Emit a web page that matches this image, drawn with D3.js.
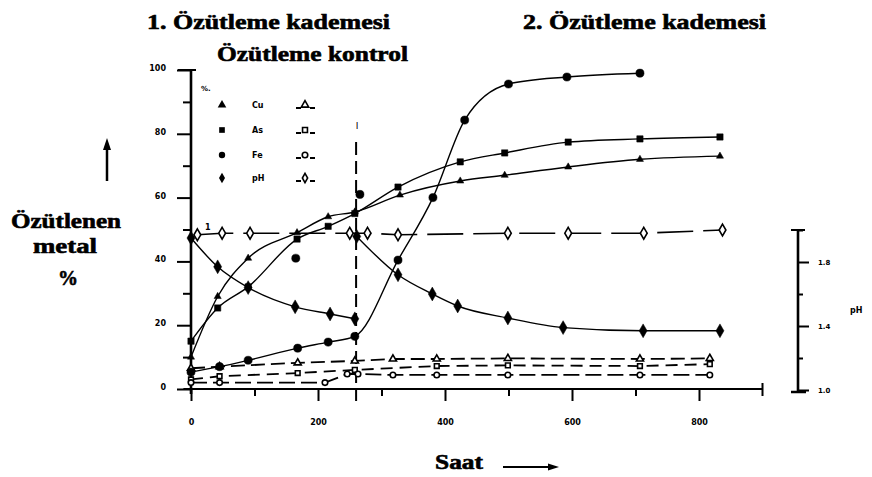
<!DOCTYPE html>
<html><head><meta charset="utf-8">
<script src="https://cdn.jsdelivr.net/npm/d3@7/dist/d3.min.js"></script>
<style>body{margin:0;background:#fff}</style>
</head><body>
<svg id="c" width="872" height="477"></svg>
<script>
// ---------- data ----------
const xTickValues = [0,100,200,300,400,500,600,700,800];
const xTickLabels = ["0","200","400","600","800"];
const yTickValues = [0,10,20,30,40,50,60,70,80,90,100];
const yTickLabels = ["0","20","40","60","80","100"];
const phTickValues = [1.0,1.2,1.4,1.6,1.8,2.0];
const phTickLabels = ["1.0","1.4","1.8"];
const stageBoundary = 260;   // saat
const xAxisEnd = 900;

// test series (filled markers, solid lines): [saat, %]
const cuTest = [[0,10],[42,29],[90,41],[167,49],[216,54],[258,55.5],[329,60.8],[424,65.2],[494,67],[594,69.6],[707,72],[833,73]];
const asTest = [[0,15],[42,25.4],[90,32],[167,47],[216,51],[258,55],[326,63.3],[424,71.2],[494,74],[594,77.4],[707,78.4],[833,79]];
const feTest = [[0,5.3],[45,7],[90,9],[168,12.8],[216,14.7],[258,16.5],[326,40.4],[381,60],[431,84.3],[500,95.6],[592,97.8],[707,99]];
const feExtra = [[165,41],[266,61]];
// pH test (right axis), two extraction stages
const phStage1 = [[0,1.95],[42,1.77],[90,1.64],[164,1.52],[219,1.475],[258,1.445]];
const phStage2 = [[261,1.96],[326,1.72],[380,1.60],[420,1.525],[499,1.45],[586,1.39],[712,1.37],[833,1.37]];
// control series (open markers, dashed lines)
const phControl = [[10,1.97],[49,1.98],[93,1.98],[250,1.98],[278,1.98],[326,1.97],[499,1.98],[594,1.98],[713,1.98],[837,2.0]];
const cuControl = [[0,6.5],[45,7],[168,8.2],[258,8.8],[318,9.4],[387,9.4],[499,9.6],[707,9.4],[817,9.6]];
const asControl = [[0,3],[45,4],[168,5],[258,6],[387,7.2],[499,7.4],[707,7.2],[817,7.8]];
const feControl = [[0,2],[45,2],[211,2],[246,4.7],[263,4.7],[318,4.4],[387,4.4],[499,4.4],[707,4.4],[817,4.4]];

const legendLabels = ["Cu","As","Fe","pH"];

// ---------- scales ----------
const svg = d3.select("#c");
const x = d3.scaleLinear().domain([0,800]).range([191,699]);
const y = d3.scaleLinear().domain([0,100]).range([389,70]);
const yPH = d3.scaleLinear().domain([1,2]).range([390,230]);

const serif = "Liberation Serif, DejaVu Serif, serif";
const sans = "DejaVu Sans, Arial, sans-serif";

// ---------- titles ----------
function title(t, xx, yy, w, fs) {
  svg.append("text").attr("x", xx).attr("y", yy).attr("font-family", serif)
    .attr("font-weight", "bold").attr("font-size", fs).attr("textLength", w)
    .attr("lengthAdjust", "spacingAndGlyphs").attr("fill", "#000")
    .attr("stroke", "#000").attr("stroke-width", 0.6).text(t);
}
title("1. Özütleme kademesi", 147, 29, 243, 21);
title("Özütleme kontrol", 217, 61, 191, 21);
title("2. Özütleme kademesi", 523, 29, 243, 21);
title("Özütlenen", 11, 228, 110, 21);
title("metal", 33, 253, 64, 21);
title("%", 58, 285, 20, 21);
title("Saat", 435, 469, 48, 21);

// arrows
svg.append("line").attr("x1",107).attr("x2",107).attr("y1",148).attr("y2",181).attr("stroke","#000").attr("stroke-width",2.5);
svg.append("path").attr("d","M103,150 L107,138 L111,150 Z").attr("fill","#000");
svg.append("line").attr("x1",503).attr("x2",550).attr("y1",467).attr("y2",467).attr("stroke","#000").attr("stroke-width",2);
svg.append("path").attr("d","M548,463.5 L559,467 L548,470.5 Z").attr("fill","#000");

// ---------- axes ----------
const gx = svg.append("g").attr("transform", "translate(0,389)")
  .call(d3.axisBottom(x).tickValues(xTickValues).tickSize(11).tickPadding(19)
    .tickFormat(d => d % 200 === 0 ? xTickLabels[d/200] : ""));
gx.select(".domain").remove();
gx.selectAll(".tick line").attr("stroke-width", 2).attr("y2", d => d % 200 === 0 ? 12 : 7);
gx.selectAll(".tick text").attr("font-family", sans).attr("font-weight", "bold").attr("font-size", 8);
svg.append("line").attr("x1", x(-12)).attr("x2", x(xAxisEnd)).attr("y1", 389).attr("y2", 389)
  .attr("stroke", "#000").attr("stroke-width", 2.2);
svg.append("line").attr("x1", x(xAxisEnd)).attr("x2", x(xAxisEnd)).attr("y1", 383).attr("y2", 396)
  .attr("stroke", "#000").attr("stroke-width", 2);

const gy = svg.append("g").attr("transform", "translate(191,0)")
  .call(d3.axisLeft(y).tickValues(yTickValues).tickSize(8).tickPadding(17)
    .tickFormat(d => d % 20 === 0 ? yTickLabels[d/20] : ""));
gy.select(".domain").remove();
gy.selectAll(".tick line").attr("stroke-width", 2).attr("x2", d => d % 20 === 0 ? -14 : -8);
gy.selectAll(".tick text").attr("font-family", sans).attr("font-weight", "bold").attr("font-size", 8).attr("dy", "0.05em");
svg.append("line").attr("x1", 191).attr("x2", 191).attr("y1", 69).attr("y2", 394)
  .attr("stroke", "#000").attr("stroke-width", 2.6);
svg.append("line").attr("x1", 178).attr("x2", 196).attr("y1", 70).attr("y2", 70)
  .attr("stroke", "#000").attr("stroke-width", 2);

const gp = svg.append("g").attr("transform", "translate(798,0)")
  .call(d3.axisRight(yPH).tickValues(phTickValues).tickSize(11).tickPadding(9)
    .tickFormat(d => phTickLabels.includes(d.toFixed(1)) ? d.toFixed(1) : ""));
gp.select(".domain").remove();
gp.selectAll(".tick line").attr("stroke-width", 2).attr("x2", d => phTickLabels.includes(d.toFixed(1)) ? 11 : 5);
gp.selectAll(".tick text").attr("font-family", sans).attr("font-weight", "bold").attr("font-size", 7);
svg.append("line").attr("x1", 798).attr("x2", 798).attr("y1", yPH(2)).attr("y2", yPH(1) + 2)
  .attr("stroke", "#000").attr("stroke-width", 2.6);
svg.append("line").attr("x1", 791).attr("x2", 805).attr("y1", yPH(2)).attr("y2", yPH(2)).attr("stroke", "#000").attr("stroke-width", 2);
svg.append("line").attr("x1", 791).attr("x2", 806).attr("y1", yPH(1) + 2).attr("y2", yPH(1) + 2).attr("stroke", "#000").attr("stroke-width", 2.5);
svg.append("text").attr("x", 850).attr("y", 313).attr("font-family", sans).attr("font-weight", "bold")
  .attr("font-size", 8).text("pH");

// stage boundary
svg.append("line").attr("x1", x(stageBoundary)).attr("x2", x(stageBoundary)).attr("y1", 142).attr("y2", 401)
  .attr("stroke", "#000").attr("stroke-width", 2).attr("stroke-dasharray", "13,6");
svg.append("text").attr("x", x(stageBoundary) + 1).attr("y", 129).attr("font-family", sans)
  .attr("font-size", 9).attr("text-anchor", "middle").text("I");
svg.append("text").attr("x", 205).attr("y", 230).attr("font-family", sans).attr("font-weight", "bold")
  .attr("font-size", 8).text("1");

// ---------- series ----------
const lineP = d3.line().x(d => x(d[0])).y(d => y(d[1])).curve(d3.curveMonotoneX);
const linePH = d3.line().x(d => x(d[0])).y(d => yPH(d[1])).curve(d3.curveMonotoneX);
const lineStraight = d3.line().x(d => x(d[0])).y(d => y(d[1]));
const lineStraightPH = d3.line().x(d => x(d[0])).y(d => yPH(d[1]));

function path(data, gen, dash, w) {
  svg.append("path").datum(data).attr("d", gen).attr("fill", "none").attr("stroke", "#000")
    .attr("stroke-width", w || 1.4).attr("stroke-dasharray", dash || null);
}
function marks(data, sy, type, size, filled) {
  svg.append("g").selectAll("path").data(data).join("path")
    .attr("transform", d => `translate(${x(d[0])},${sy(d[1])})`)
    .attr("d", d3.symbol().type(type).size(size))
    .attr("fill", filled ? "#000" : "#fff").attr("stroke", "#000").attr("stroke-width", filled ? 0.5 : 1.6);
}

// controls (dashed)
path(cuControl, lineStraight, "14,6", 1.8);
path(asControl, lineStraight, "12,7", 1.8);
path(feControl, lineStraight, "16,6", 1.8);
path(phControl, lineStraightPH, "36,10", 1.6);
marks(cuControl, y, d3.symbolTriangle, 22, false);
marks(asControl, y, d3.symbolSquare, 22, false);
marks(feControl, y, d3.symbolCircle, 24, false);
marks(phControl, yPH, d3.symbolDiamond, 40, false);

// tests
path(cuTest, lineP, null, 1.4);
path(asTest, lineP, null, 1.4);
path(feTest, lineP, null, 1.4);
path(phStage1, linePH, null, 1.4);
path(phStage2, linePH, null, 1.4);
marks(cuTest, y, d3.symbolTriangle, 22, true);
marks(asTest, y, d3.symbolSquare, 40, true);
marks(feTest, y, d3.symbolCircle, 52, true);
marks(feExtra, y, d3.symbolCircle, 52, true);
marks(phStage1, yPH, d3.symbolDiamond, 55, true);
marks(phStage2, yPH, d3.symbolDiamond, 55, true);

// ---------- legend ----------
const legendTypes = [d3.symbolTriangle, d3.symbolSquare, d3.symbolCircle, d3.symbolDiamond];
const legendY = [105, 130, 155, 178];
svg.append("text").attr("x", 201).attr("y", 91).attr("font-family", sans).attr("font-weight", "bold")
  .attr("font-size", 7).text("%.");
legendLabels.forEach((lab, i) => {
  const ly = legendY[i];
  svg.append("path").attr("transform", `translate(222,${ly})`)
    .attr("d", d3.symbol().type(legendTypes[i]).size(32)).attr("fill", "#000");
  svg.append("text").attr("x", 252).attr("y", ly + 3).attr("font-family", sans).attr("font-weight", "bold")
    .attr("font-size", 8).text(lab);
  svg.append("line").attr("x1", 296).attr("x2", 315).attr("y1", ly + 3).attr("y2", ly + 3)
    .attr("stroke", "#000").attr("stroke-width", 1.8).attr("stroke-dasharray", "5,9");
  svg.append("path").attr("transform", `translate(305,${ly})`)
    .attr("d", d3.symbol().type(legendTypes[i]).size(24)).attr("fill", "#fff")
    .attr("stroke", "#000").attr("stroke-width", 1.6);
});
</script>
</body></html>
